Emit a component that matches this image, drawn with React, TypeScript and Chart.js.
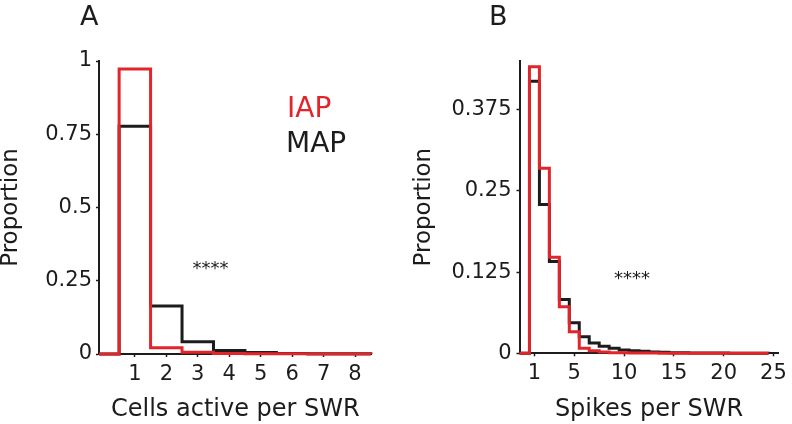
import React, { useEffect, useRef } from "react";
import { Chart, registerables } from "chart.js";

Chart.register(...registerables);

const FONT = "DejaVu Sans";
const RED = "#e2242b";
const BLACK = "#1c1c1c";

// Panel A: cells active per SWR
const cellsBins = [1, 2, 3, 4, 5, 6, 7, 8];
const cellsMAP = [0.777, 0.164, 0.042, 0.012, 0.005, 0.002, 0.001, 0.0005];
const cellsIAP = [0.973, 0.021, 0.006, 0.002, 0.001, 0.0005, 0.0002, 0.0001];
const cellsXTicks = [1, 2, 3, 4, 5, 6, 7, 8];
const cellsYTicks = [0, 0.25, 0.5, 0.75, 1];

// Panel B: spikes per SWR
const spikesBins = [1, 2, 3, 4, 5, 6, 7, 8, 9, 10, 11, 12, 13, 14, 15, 16, 17, 18, 19, 20, 21, 22, 23, 24];
const spikesMAP = [0.419, 0.229, 0.1415, 0.083, 0.047, 0.0255, 0.016, 0.011, 0.0077, 0.005, 0.004, 0.003, 0.002, 0.0015, 0.001, 0.0008, 0.0006, 0.0005, 0.0004, 0.0003, 0.0002, 0.0002, 0.0001, 0.0001];
const spikesIAP = [0.441, 0.285, 0.148, 0.0715, 0.033, 0.0077, 0.004, 0.002, 0.001, 0.0008, 0.0005, 0.0004, 0.0003, 0.0002, 0.0002, 0.0001, 0.0001, 0, 0, 0, 0, 0, 0, 0];
const spikesXTicks = [1, 5, 10, 15, 20, 25];
const spikesYTicks = [0, 0.125, 0.25, 0.375];

function stepPoints(bins: number[], values: number[], xMin: number) {
  const pts: { x: number; y: number }[] = [{ x: xMin, y: 0 }];
  bins.forEach((b, i) => pts.push({ x: b - 0.5, y: values[i] }));
  pts.push({ x: bins[bins.length - 1] + 0.5, y: 0 });
  return pts;
}

type TextItem = { text: string; x: number; y: number; size: number; color: string; align: CanvasTextAlign };

type PanelProps = {
  bins: number[];
  map: number[];
  iap: number[];
  xMin: number;
  xMax: number;
  yMax: number;
  xTicks: number[];
  yTicks: number[];
  xTitle: string;
  yWidth: number;
  xHeight: number;
  padRight: number;
  yTitlePad: number;
  yTickPad: number;
  texts: TextItem[];
};

function Panel(p: PanelProps) {
  const ref = useRef<HTMLCanvasElement | null>(null);
  useEffect(() => {
    if (!ref.current) return;
    const textPlugin = {
      id: "panelTexts",
      afterDraw(chart: any) {
        const ctx = chart.ctx;
        ctx.save();
        p.texts.forEach((t) => {
          ctx.font = `${t.size}px "${FONT}"`;
          ctx.fillStyle = t.color;
          ctx.textAlign = t.align;
          ctx.textBaseline = "alphabetic";
          ctx.fillText(t.text, t.x, t.y);
        });
        ctx.restore();
      },
    };
    const chart = new Chart(ref.current, {
      type: "line",
      data: {
        datasets: [
          {
            label: "IAP",
            data: stepPoints(p.bins, p.iap, p.xMin),
            borderColor: RED,
            borderWidth: 3,
            stepped: true,
            pointRadius: 0,
            fill: false,
            clip: false as any,
          },
          {
            label: "MAP",
            data: stepPoints(p.bins, p.map, p.xMin),
            borderColor: BLACK,
            borderWidth: 3,
            stepped: true,
            pointRadius: 0,
            fill: false,
            clip: false as any,
          },
        ],
      },
      options: {
        animation: false,
        responsive: false,
        layout: { padding: { left: 0, top: 61, right: p.padRight, bottom: 0 } },
        plugins: { legend: { display: false }, tooltip: { enabled: false } },
        scales: {
          x: {
            type: "linear",
            min: p.xMin,
            max: p.xMax,
            afterBuildTicks: (s: any) => {
              s.ticks = p.xTicks.map((v) => ({ value: v }));
            },
            afterFit: (s: any) => {
              s.height = p.xHeight;
            },
            ticks: {
              color: BLACK,
              font: { family: FONT, size: 21 },
              padding: 5,
              maxRotation: 0,
              autoSkip: false,
              callback: (v: any) => String(v),
            },
            grid: { display: true, drawOnChartArea: false, drawTicks: true, tickLength: 3, tickColor: BLACK, tickWidth: 1.5 },
            border: { display: true, color: BLACK, width: 2 },
            title: {
              display: true,
              text: p.xTitle,
              color: BLACK,
              font: { family: FONT, size: 24, lineHeight: 1 },
              padding: { top: 0, bottom: 2 },
            },
          },
          y: {
            type: "linear",
            min: 0,
            max: p.yMax,
            afterBuildTicks: (s: any) => {
              s.ticks = p.yTicks.map((v) => ({ value: v }));
            },
            afterFit: (s: any) => {
              s.width = p.yWidth;
            },
            ticks: {
              color: BLACK,
              font: { family: FONT, size: 21 },
              padding: p.yTickPad,
              autoSkip: false,
              callback: (v: any) => String(v),
            },
            grid: { display: true, drawOnChartArea: false, drawTicks: true, tickLength: 3, tickColor: BLACK, tickWidth: 1.5 },
            border: { display: true, color: BLACK, width: 2 },
            title: {
              display: true,
              text: "Proportion",
              color: BLACK,
              font: { family: FONT, size: 23, lineHeight: 1 },
              padding: { top: p.yTitlePad, bottom: 0 },
            },
          },
        },
      },
      plugins: [textPlugin],
    } as any);
    return () => chart.destroy();
  }, []);
  return <canvas ref={ref} width={396} height={424} style={{ display: "block", width: 396, height: 424 }} />;
}

export default function App() {
  return (
    <div style={{ position: "absolute", left: 0, top: 0, width: 792, height: 424, display: "flex", background: "#fff" }}>
      <Panel
        bins={cellsBins}
        map={cellsMAP}
        iap={cellsIAP}
        xMin={-0.14}
        xMax={8.53}
        yMax={1}
        xTicks={cellsXTicks}
        yTicks={cellsYTicks}
        xTitle="Cells active per SWR"
        yWidth={99}
        xHeight={70}
        padRight={24.3}
        yTitlePad={0}
        yTickPad={4}
        texts={[
          { text: "A", x: 80, y: 25, size: 27, color: BLACK, align: "left" },
          { text: "IAP", x: 287, y: 117, size: 28, color: RED, align: "left" },
          { text: "MAP", x: 286, y: 152, size: 28, color: BLACK, align: "left" },
          { text: "****", x: 210.5, y: 273.5, size: 18, color: BLACK, align: "center" },
        ]}
      />
      <Panel
        bins={spikesBins}
        map={spikesMAP}
        iap={spikesIAP}
        xMin={-0.5}
        xMax={25.5}
        yMax={0.45}
        xTicks={spikesXTicks}
        yTicks={spikesYTicks}
        xTitle="Spikes per SWR"
        yWidth={123.5}
        xHeight={70.7}
        padRight={8}
        yTitlePad={16.5}
        yTickPad={5}
        texts={[
          { text: "B", x: 93, y: 25, size: 27, color: BLACK, align: "left" },
          { text: "****", x: 236, y: 284, size: 18, color: BLACK, align: "center" },
        ]}
      />
    </div>
  );
}
